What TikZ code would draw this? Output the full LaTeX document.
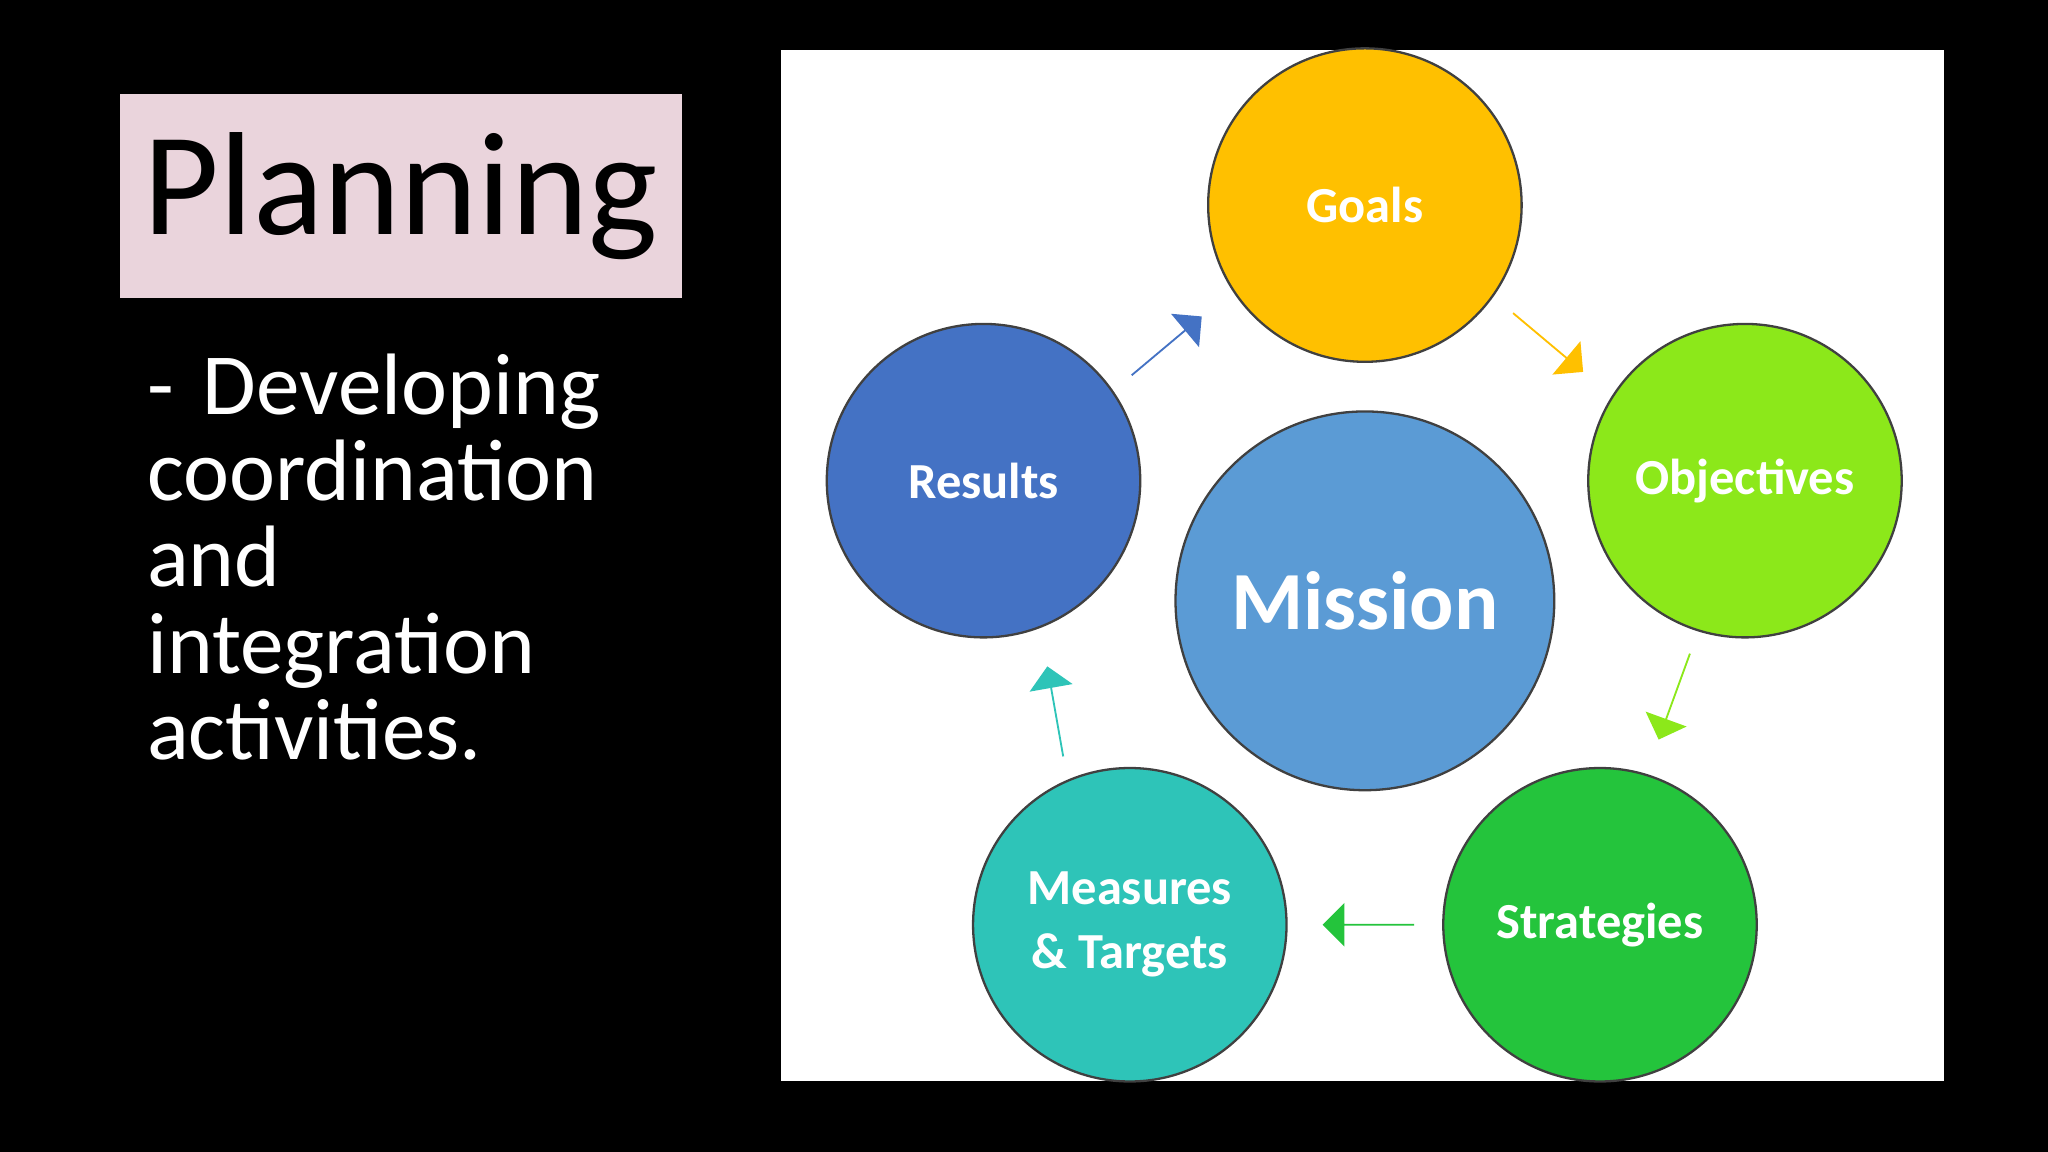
\documentclass[tikz,border=0pt]{standalone}
\usepackage{fontspec}
\setmainfont{Carlito}
\usetikzlibrary{shapes.arrows}
\definecolor{pinkbox}{RGB}{234,212,220}
\definecolor{cgoal}{RGB}{255,192,0}
\definecolor{cobj}{RGB}{140,232,26}
\definecolor{cstr}{RGB}{36,196,60}
\definecolor{cmeas}{RGB}{46,196,184}
\definecolor{cres}{RGB}{68,114,196}
\definecolor{cmis}{RGB}{91,155,213}
\tikzset{
 circ/.style={circle,draw=black!75,line width=0.5pt,minimum size=24mm,inner sep=0pt,text=white,font=\bfseries\fontsize{11}{12}\selectfont,align=center},
 barrow/.style={single arrow,draw=none,minimum height=7mm,minimum width=3.2mm,single arrow head extend=1.6mm,inner sep=0pt}
}
\begin{document}
\begin{tikzpicture}[x=0.1mm,y=-0.1mm]
\fill[black] (0,0) rectangle (1568,882);
\node[draw=none,fill=pinkbox,minimum width=43mm,minimum height=15.6mm,inner sep=0pt,font=\fontsize{32}{34}\selectfont] (title) at (307,150) {Planning};
\node[anchor=north west,text=white,align=left,inner sep=0pt,text width=40mm,font=\fontsize{19}{18.8}\selectfont] (body) at (112,270) {- Developing\\coordination\\and\\integration\\activities.};
\fill[white] (598,38) rectangle (1488,828);
\node[circ,fill=cgoal] (goals) at (1045,157) {Goals};
\node[circ,fill=cobj] (obj) at (1336,368) {Objectives};
\node[circ,fill=cstr] (str) at (1225,708) {Strategies};
\node[circ,fill=cmeas,font=\bfseries\fontsize{11}{14}\selectfont] (meas) at (865,708) {Measures\\\& Targets};
\node[circ,fill=cres] (res) at (753,368) {Results};
\node[circ,fill=cmis,minimum size=29mm,font=\bfseries\fontsize{18}{20}\selectfont] (mis) at (1045,460) {Mission};
\node[barrow,fill=cres,rotate=40] (a1) at (893,265) {};
\node[barrow,fill=cgoal,rotate=-40] (a2) at (1185,262) {};
\node[barrow,fill=cobj,rotate=-110] (a3) at (1282,533) {};
\node[barrow,fill=cstr,rotate=180] (a4) at (1048,708) {};
\node[barrow,fill=cmeas,rotate=100] (a5) at (808,545) {};
\end{tikzpicture}
\end{document}
